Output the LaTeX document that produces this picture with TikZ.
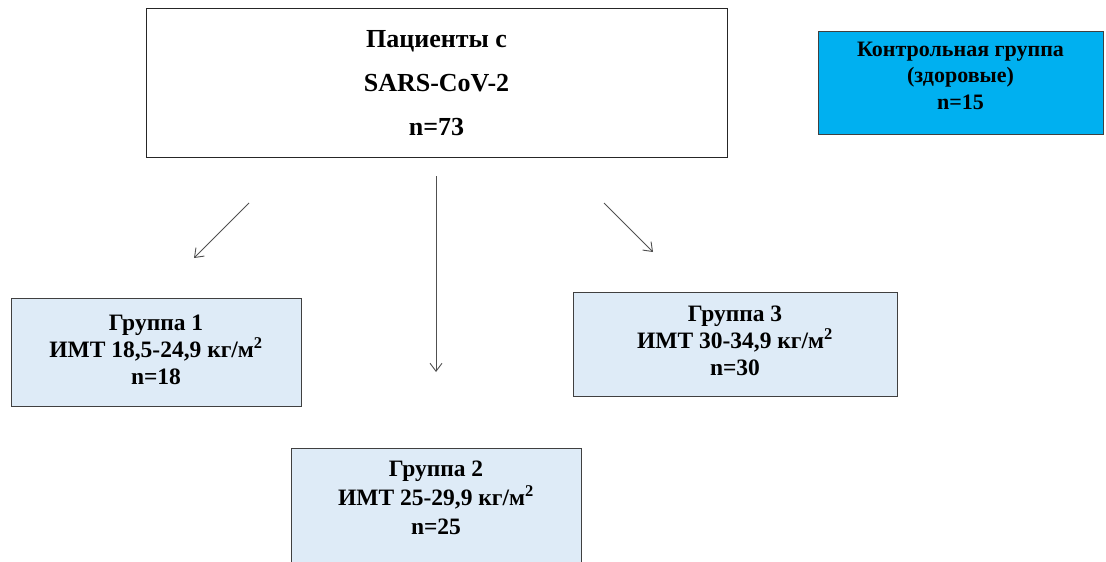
\documentclass[tikz,border=0pt]{standalone}
\usepackage{fontspec}
\setmainfont{Liberation Serif}
\usetikzlibrary{arrows.meta}
\definecolor{ctrl}{HTML}{00B0F0}
\definecolor{grp}{HTML}{DEEBF7}
\definecolor{edge}{HTML}{404040}
\definecolor{arrc}{HTML}{505050}
\tikzset{
  mainbox/.style={draw=black!85, line width=1pt, fill=white, minimum width=581pt, minimum height=149pt, align=center, font=\fontsize{26}{44}\selectfont\bfseries},
  ctrlbox/.style={draw=edge, line width=1pt, fill=ctrl, minimum width=285pt, minimum height=103pt, align=center, font=\fontsize{22}{26.5}\selectfont\bfseries},
  grpbox/.style={draw=edge, line width=1pt, fill=grp, align=center, font=\fontsize{23.5}{27}\selectfont\bfseries},
  arr/.style={draw=arrc, line width=0.9pt, -{Straight Barb[length=8pt,width=12pt]}}
}
\begin{document}
\begin{tikzpicture}[x=1pt,y=-1pt]
\useasboundingbox (0,0) rectangle (1106,562);
\clip (0,0) rectangle (1106,562);
\node[mainbox, text depth=0pt] (main) at (436.5,82.5) {Пациенты с\\SARS-CoV-2\\n=73};
\node[ctrlbox, text depth=14pt] (ctrl) at (960.5,82.5) {Контрольная группа\\(здоровые)\\n=15};
\node[grpbox, minimum width=290pt, minimum height=108pt, text depth=5pt] (g1) at (156,352) {Группа 1\\ИМТ 18,5-24,9 кг/м\textsuperscript{2}\\n=18};
\node[grpbox, minimum width=324pt, minimum height=104pt, text depth=7pt] (g3) at (735,344) {Группа 3\\ИМТ 30-34,9 кг/м\textsuperscript{2}\\n=30};
\node[grpbox, minimum width=290pt, minimum height=150pt, anchor=north] (g2) at (436,448) {};
\node[font=\fontsize{23.5}{29}\selectfont\bfseries, align=center] (g2t) at (436,498) {Группа 2\\ИМТ 25-29,9 кг/м\textsuperscript{2}\\n=25};
\coordinate (a1s) at (249,203);
\coordinate (a1e) at (194,258);
\coordinate (a2s) at (436,176);
\coordinate (a2e) at (436,372);
\coordinate (a3s) at (604,203);
\coordinate (a3e) at (653,252);
\draw[arr] (a1s) -- (a1e);
\draw[arr] (a2s) -- (a2e);
\draw[arr] (a3s) -- (a3e);
\end{tikzpicture}
\end{document}
